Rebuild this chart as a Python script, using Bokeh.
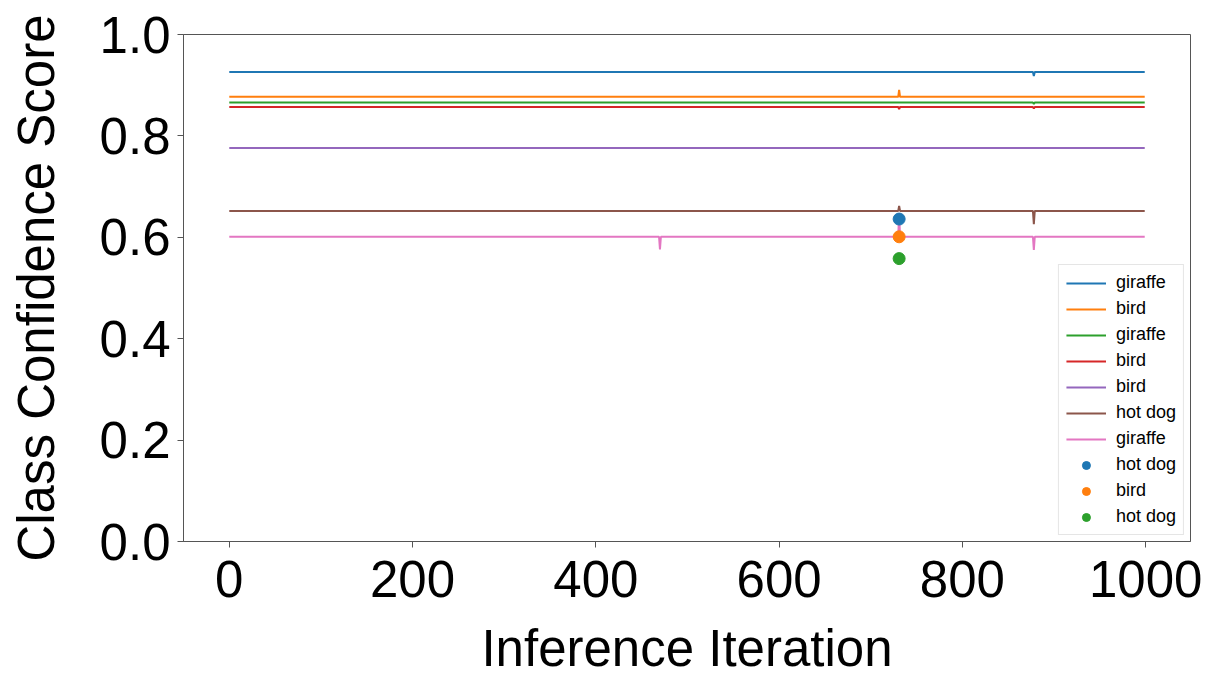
from bokeh.plotting import figure
from bokeh.models import Range1d, FixedTicker, PrintfTickFormatter, Legend, LegendItem
from bokeh.embed import file_html
from bokeh.resources import INLINE

# ---------------- data ----------------
line_labels = ["giraffe", "bird", "giraffe", "bird", "bird", "hot dog", "giraffe"]
line_colors = ["#1f77b4", "#ff7f0e", "#2ca02c", "#d62728", "#9467bd", "#8c564b", "#e377c2"]

# iteration knots and class confidence values for each line series
giraffe1_x = [0, 877, 878, 879, 999]
giraffe1_y = [0.926, 0.926, 0.918, 0.926, 0.926]
bird1_x = [0, 730, 731, 732, 999]
bird1_y = [0.877, 0.877, 0.891, 0.877, 0.877]
giraffe2_x = [0, 877, 878, 879, 999]
giraffe2_y = [0.866, 0.866, 0.863, 0.866, 0.866]
bird2_x = [0, 730, 731, 732, 877, 878, 879, 999]
bird2_y = [0.857, 0.857, 0.853, 0.857, 0.857, 0.854, 0.857, 0.857]
bird3_x = [0, 999]
bird3_y = [0.776, 0.776]
hotdog1_x = [0, 730, 731, 732, 877, 878, 879, 999]
hotdog1_y = [0.652, 0.652, 0.662, 0.652, 0.652, 0.626, 0.652, 0.652]
giraffe3_x = [0, 469, 470, 471, 730, 731, 732, 877, 878, 879, 999]
giraffe3_y = [0.601, 0.601, 0.576, 0.601, 0.601, 0.648, 0.601, 0.601, 0.575, 0.601, 0.601]

line_xs = [giraffe1_x, bird1_x, giraffe2_x, bird2_x, bird3_x, hotdog1_x, giraffe3_x]
line_ys = [giraffe1_y, bird1_y, giraffe2_y, bird2_y, bird3_y, hotdog1_y, giraffe3_y]

point_labels = ["hot dog", "bird", "hot dog"]
point_colors = ["#1f77b4", "#ff7f0e", "#2ca02c"]
point_x = [731, 731, 731]
point_y = [0.636, 0.601, 0.558]

x_ticks = [0, 200, 400, 600, 800, 1000]
y_ticks = [0.0, 0.2, 0.4, 0.6, 0.8, 1.0]

FONT = "Liberation Sans"

# ---------------- figure ----------------
p = figure(width=1223, height=679, output_backend="svg", toolbar_location=None,
           x_range=Range1d(-49.95, 1048.95), y_range=Range1d(0, 1),
           min_border_left=183, min_border_right=33, min_border_top=34, min_border_bottom=136)
p.background_fill_color = "white"
p.border_fill_color = "white"
p.outline_line_color = "#555555"
p.outline_line_width = 1
p.grid.visible = False

items = []
for xs, ys, lab, col in zip(line_xs, line_ys, line_labels, line_colors):
    r = p.line(xs, ys, line_color=col, line_width=2)
    items.append(LegendItem(label=lab, renderers=[r]))
for x, y, lab, col in zip(point_x, point_y, point_labels, point_colors):
    r = p.scatter([x], [y], size=12, marker="circle", fill_color=col, line_color=col)
    items.append(LegendItem(label=lab, renderers=[r]))

for ax in (p.xaxis[0], p.yaxis[0]):
    ax.axis_line_color = "#555555"
    ax.major_tick_line_color = "#555555"
    ax.major_tick_out = 6
    ax.major_tick_in = 0
    ax.minor_tick_line_color = None
    ax.major_label_text_font = FONT
    ax.major_label_text_font_size = "51px"
    ax.major_label_text_color = "black"
    ax.axis_label_text_font = FONT
    ax.axis_label_text_font_size = "51px"
    ax.axis_label_text_font_style = "normal"
    ax.axis_label_text_color = "black"

p.xaxis.ticker = FixedTicker(ticks=x_ticks)
p.yaxis.ticker = FixedTicker(ticks=y_ticks)
p.yaxis.formatter = PrintfTickFormatter(format="%.1f")
p.xaxis.axis_label = "Inference Iteration"
p.yaxis.axis_label = "Class Confidence Score"
p.xaxis.major_label_standoff = 13
p.xaxis.axis_label_standoff = 20
p.yaxis.major_label_standoff = 7
p.yaxis.axis_label_standoff = 32

legend = Legend(items=items, location="bottom_right",
                label_text_font=FONT, label_text_font_size="18px",
                label_text_color="black",
                glyph_width=40, glyph_height=20, label_height=20,
                spacing=5, padding=7, margin=6, label_standoff=10,
                border_line_color="#cccccc", border_line_width=1,
                background_fill_alpha=0.8)
p.add_layout(legend)

open("out.html", "w").write(file_html(p, INLINE))
